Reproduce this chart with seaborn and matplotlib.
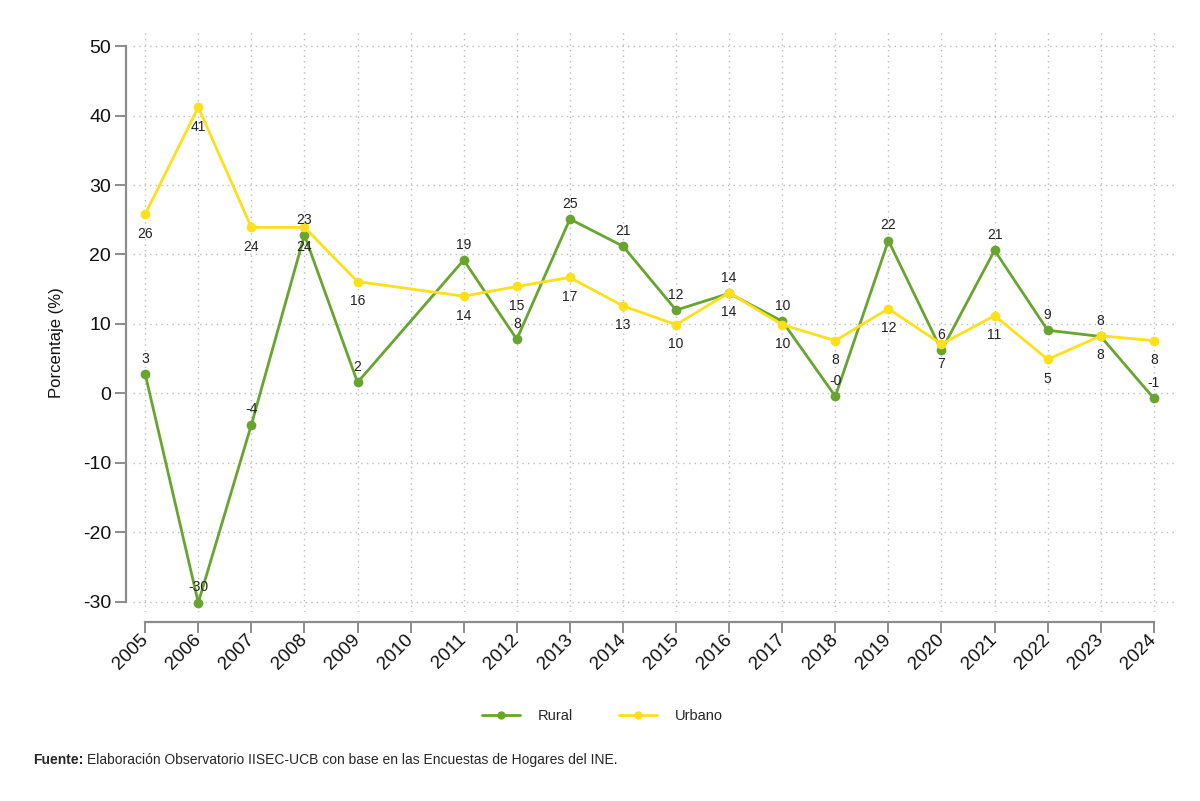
import numpy as np
import pandas as pd
import matplotlib
matplotlib.use("Agg")
import matplotlib.pyplot as plt
from matplotlib.lines import Line2D
import seaborn as sns

# --- data (2010 has no survey, line jumps 2009 -> 2011) ---
years = [2005, 2006, 2007, 2008, 2009, 2011, 2012, 2013, 2014, 2015,
         2016, 2017, 2018, 2019, 2020, 2021, 2022, 2023, 2024]
rural = [2.8, -30.1, -4.5, 22.8, 1.6, 19.2, 7.8, 25.1, 21.2, 12.0,
         14.4, 10.4, -0.4, 22.0, 6.2, 20.6, 9.1, 8.2, -0.7]
urbano = [25.8, 41.2, 23.9, 23.9, 16.1, 14.0, 15.4, 16.7, 12.6, 9.9,
          14.5, 9.9, 7.6, 12.2, 7.1, 11.2, 4.9, 8.3, 7.6]
tick_years = list(range(2005, 2025))
y_ticks = [-30, -20, -10, 0, 10, 20, 30, 40, 50]

c_rural = "#67A52F"
c_urb = "#FBE01A"
c_axis = "#8C8C8C"

df = pd.DataFrame({
    "year": years * 2,
    "valor": rural + urbano,
    "zona": ["Rural"] * len(years) + ["Urbano"] * len(years),
})

sns.set_theme(style="white")
plt.rcParams["font.family"] = ["Liberation Sans", "DejaVu Sans"]

fig = plt.figure(figsize=(12, 8.01), dpi=100)
ax = fig.add_axes([0.111, 0.236, 0.868, 0.7265])

# spines first (set_position resets the ticks)
for s in ["top", "right"]:
    ax.spines[s].set_visible(False)
ax.spines["left"].set_position(("outward", 5))
ax.spines["bottom"].set_position(("outward", 7))

sns.lineplot(data=df, x="year", y="valor", hue="zona",
             palette={"Rural": c_rural, "Urbano": c_urb},
             marker="o", markersize=7, markeredgewidth=0, linewidth=2.0,
             legend=False, ax=ax, zorder=3)

# value labels: rural above, urban below
for x, v in zip(years, rural):
    ax.annotate(f"{v:.0f}", (x, v), xytext=(0, 11), textcoords="offset points",
                ha="center", va="center", fontsize=10, color="#222222", zorder=4)
for x, v in zip(years, urbano):
    ax.annotate(f"{v:.0f}", (x, v), xytext=(0, -14), textcoords="offset points",
                ha="center", va="center", fontsize=10, color="#222222", zorder=4)

ax.set_xlim(2004.774, 2024.395)
ax.set_ylim(-31.44, 52.3)
ax.spines["left"].set_bounds(-30, 50)
ax.spines["bottom"].set_bounds(2005, 2024)
for s in ["left", "bottom"]:
    ax.spines[s].set_color(c_axis)
    ax.spines[s].set_linewidth(1.6)
ax.tick_params(axis="both", which="major", length=8, width=1.4, color=c_axis,
               direction="out", left=True, bottom=True, pad=3, labelcolor="#111111")

ax.set_xticks(tick_years)
ax.set_xticklabels([str(y) for y in tick_years], rotation=45, ha="right",
                   va="center", rotation_mode="anchor", fontsize=13.5)
ax.set_yticks(y_ticks)
ax.set_yticklabels([str(t) for t in y_ticks], fontsize=14)
ax.set_xlabel("")
ax.set_ylabel("Porcentaje (%)", fontsize=12, color="#111111")
ax.yaxis.set_label_coords(-0.066, 0.462)

ax.grid(True, color="#BDBDBD", linestyle=(0, (1, 3)), linewidth=1.0)
ax.set_axisbelow(True)

handles = [Line2D([0], [0], color=c_rural, lw=2, marker="o", ms=6, mew=0),
           Line2D([0], [0], color=c_urb, lw=2, marker="o", ms=6, mew=0)]
fig.legend(handles, ["Rural", "Urbano"], loc="center", bbox_to_anchor=(0.502, 0.106),
           ncol=2, frameon=False, fontsize=10.5, handlelength=2.6,
           columnspacing=3.2, handletextpad=1.2)

# source note
fig.canvas.draw()
t1 = fig.text(0.028, 0.051, "Fuente:", fontsize=10, fontweight="bold", va="center")
fig.canvas.draw()
bb = t1.get_window_extent()
x2 = (bb.x1 + 3) / fig.bbox.width
fig.text(x2, 0.051, "Elaboración Observatorio IISEC-UCB con base en las Encuestas de Hogares del INE.",
         fontsize=10, va="center")

fig.savefig("out.png", dpi=100, facecolor="white")
